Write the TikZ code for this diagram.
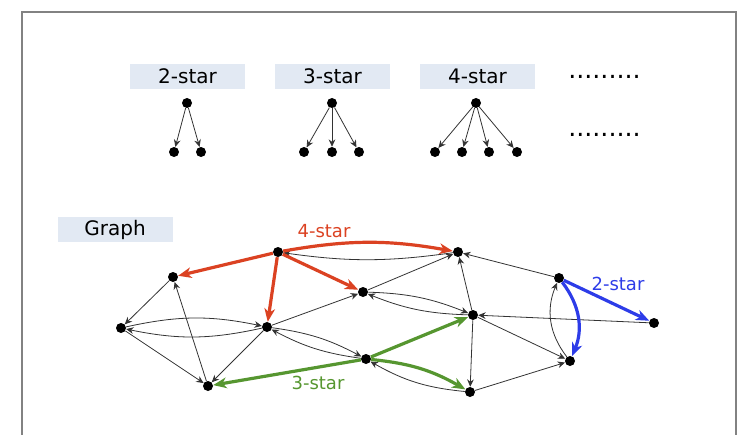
\documentclass[tikz,border=0pt]{standalone}
\usepackage{fontspec}
\setmainfont{DejaVu Sans}
\usetikzlibrary{arrows.meta}

\definecolor{starred}{RGB}{219,66,34}
\definecolor{stargreen}{RGB}{86,150,48}
\definecolor{starblue}{RGB}{45,60,232}
\definecolor{labelbox}{RGB}{226,233,243}
\definecolor{framegray}{RGB}{130,130,130}

\tikzset{
  vtx/.style={circle,fill=black,inner sep=0pt,minimum size=7.5pt},
  tag/.style={fill=labelbox,minimum width=86.25pt,minimum height=18.75pt,inner sep=0pt,font=\fontsize{15}{17}\selectfont},
  lab/.style={inner sep=1pt,font=\fontsize{13.5}{15}\selectfont},
  thinedge/.style={draw=black!80,line width=0.6pt,-{Stealth[length=5.5pt,width=5pt,inset=1.8pt]}},
  rededge/.style={draw=starred,line width=2.4pt,-{Stealth[length=10pt,width=8pt,inset=3pt]}},
  greenedge/.style={draw=stargreen,line width=2.4pt,-{Stealth[length=10pt,width=8pt,inset=3pt]}},
  blueedge/.style={draw=starblue,line width=2.4pt,-{Stealth[length=10pt,width=8pt,inset=3pt]}}
}

\begin{document}
\begin{tikzpicture}[x=0.75pt,y=0.75pt,yscale=-1,xscale=1]
\useasboundingbox (0,0) rectangle (739,435);

% Frame
\draw[framegray,line width=1.2pt] (22,440) -- (22,12) -- (736,12) -- (736,440);

% Text Node
\node[tag] (tag2) at (187.5,76.5) {2-star};
% Text Node
\node[tag] (tag3) at (332.5,76.5) {3-star};
% Text Node
\node[tag] (tag4) at (477.5,76.5) {4-star};
% Text Node
\node[tag] (taggraph) at (115,229.5) {Graph};
% Text Node
\node[inner sep=0pt,font=\fontsize{19}{19}\selectfont] (dotsup) at (604.5,77) {.........};
% Text Node
\node[inner sep=0pt,font=\fontsize{19}{19}\selectfont] (dotslow) at (604.5,135) {.........};

% Stars
\node[vtx] (r2) at (187,103) {};
\node[vtx] (c2a) at (174,152) {};
\node[vtx] (c2b) at (201,152) {};
\node[vtx] (r3) at (332,103) {};
\node[vtx] (c3a) at (304,152) {};
\node[vtx] (c3b) at (332,152) {};
\node[vtx] (c3c) at (359,152) {};
\node[vtx] (r4) at (476,103) {};
\node[vtx] (c4a) at (435,152) {};
\node[vtx] (c4b) at (462,152) {};
\node[vtx] (c4c) at (489,152) {};
\node[vtx] (c4d) at (517,152) {};
\foreach \c in {c2a,c2b} \draw[thinedge] (r2) -- (\c);
\foreach \c in {c3a,c3b,c3c} \draw[thinedge] (r3) -- (\c);
\foreach \c in {c4a,c4b,c4c,c4d} \draw[thinedge] (r4) -- (\c);

% Graph vertices
\node[vtx] (vA) at (278,252) {};
\node[vtx] (vB) at (173,277) {};
\node[vtx] (vC) at (121,328) {};
\node[vtx] (vD) at (267,327) {};
\node[vtx] (vE) at (208,386) {};
\node[vtx] (vF) at (363,292) {};
\node[vtx] (vG) at (458,252) {};
\node[vtx] (vH) at (473,315) {};
\node[vtx] (vI) at (366,359) {};
\node[vtx] (vJ) at (470,392) {};
\node[vtx] (vK) at (559,278) {};
\node[vtx] (vL) at (570,361) {};
\node[vtx] (vM) at (654,323) {};

%Straight Lines
\draw[thinedge] (vB) -- (vC);
\draw[thinedge] (vC) -- (vE);
\draw[thinedge] (vE) -- (vB);
\draw[thinedge] (vD) -- (vE);
\draw[thinedge] (vD) -- (vF);
\draw[thinedge] (vF) -- (vG);
\draw[thinedge] (vH) -- (vG);
\draw[thinedge] (vH) -- (vJ);
\draw[thinedge] (vK) -- (vG);
\draw[thinedge] (vM) -- (vH);
\draw[thinedge] (vH) -- (vL);
\draw[thinedge] (vJ) -- (vL);
%Curve Lines
\draw[thinedge] (vC) to[bend right=12] (vD);
\draw[thinedge] (vD) to[bend right=12] (vC);
\draw[thinedge] (vD) to[bend right=10] (vI);
\draw[thinedge] (vI) to[bend right=10] (vD);
\draw[thinedge] (vF) to[bend right=10] (vH);
\draw[thinedge] (vH) to[bend right=10] (vF);
\draw[thinedge] (vJ) to[bend right=12] (vI);
\draw[thinedge] (vG) to[bend right=8] (vA);
\draw[thinedge] (vL) to[bend right=30] (vK);

% 4-star
\draw[rededge] (vA) -- (vB);
\draw[rededge] (vA) -- (vD);
\draw[rededge] (vA) -- (vF);
\draw[rededge] (vA) to[bend right=10] (vG);
% 3-star
\draw[greenedge] (vI) -- (vE);
\draw[greenedge] (vI) -- (vH);
\draw[greenedge] (vI) to[bend right=12] (vJ);
% 2-star
\draw[blueedge] (vK) to[bend right=30] (vL);
\draw[blueedge] (vK) -- (vM);

% Text Node
\node[lab,text=starred] (lab4) at (324,231) {4-star};
% Text Node
\node[lab,text=stargreen] (lab3) at (318,383) {3-star};
% Text Node
\node[lab,text=starblue] (lab2) at (618,284) {2-star};

\end{tikzpicture}
\end{document}
